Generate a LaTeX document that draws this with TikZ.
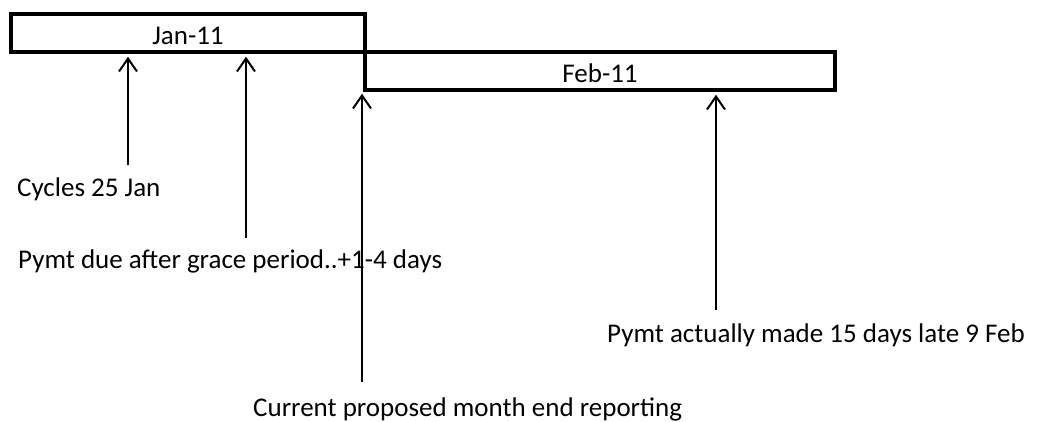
\documentclass[tikz,border=0pt]{standalone}
\usepackage{fontspec}
\setmainfont{Carlito}
\usetikzlibrary{arrows.meta}
\begin{document}
\begin{tikzpicture}[x=1pt,y=-1pt,
  month/.style={draw,line width=3.5pt,minimum height=38pt,inner sep=0pt,text height=22pt,text depth=0pt,font=\fontsize{27}{30}\selectfont},
  lbl/.style={anchor=base west,inner sep=0pt,font=\fontsize{27}{30}\selectfont},
  arr/.style={line width=2pt,-{Straight Barb[length=13pt,width=18pt,line width=2pt]}}]
\useasboundingbox (0,0) rectangle (1043,421);
\node[month,minimum width=354pt] (jan) at (188,33) {Jan-11};
\node[month,minimum width=470pt] (feb) at (600,71) {Feb-11};
\coordinate (c1) at (128,165);
\coordinate (c2) at (246,238);
\coordinate (c3) at (362,382);
\coordinate (c4) at (716,310);
\draw[arr,shorten >=3pt] (c1) -- (c1 |- jan.south);
\draw[arr,shorten >=3pt] (c2) -- (c2 |- jan.south);
\draw[arr,shorten >=2pt] (c3) -- (c3 |- feb.south);
\draw[arr,shorten >=3pt] (c4) -- (c4 |- feb.south);
\node[lbl] (l1) at (17,196) {Cycles 25 Jan};
\node[lbl] (l2) at (18,268) {Pymt due after grace period..+1-4 days};
\node[lbl] (l4) at (607,342) {Pymt actually made 15 days late 9 Feb};
\node[lbl] (l3) at (253,416) {Current proposed month end reporting};
\end{tikzpicture}
\end{document}
